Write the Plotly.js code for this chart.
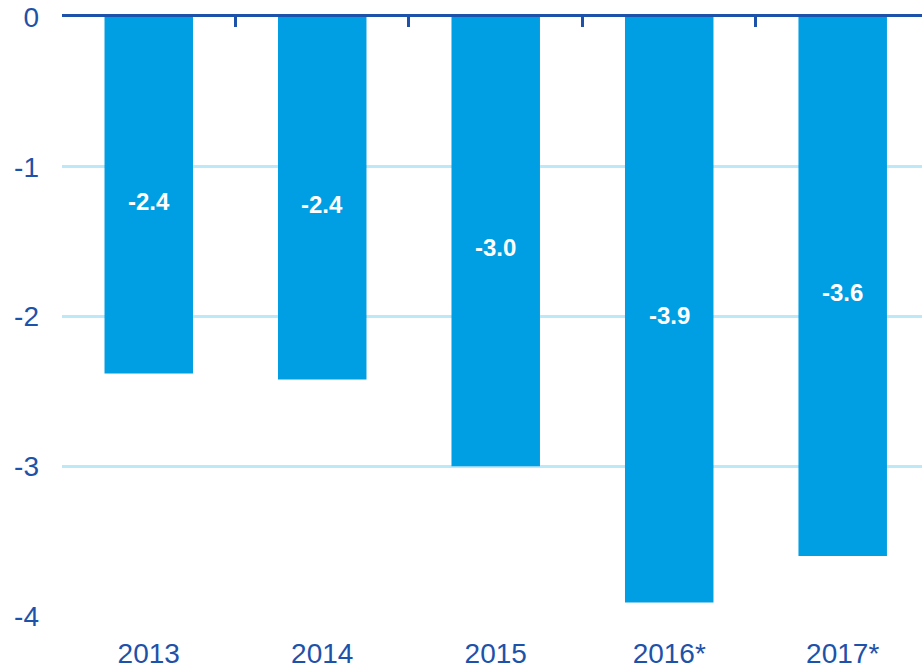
<!DOCTYPE html>
<html>
<head>
<meta charset="utf-8">
<script src="https://cdn.plot.ly/plotly-3.0.1.min.js"></script>
<style>html,body{margin:0;padding:0;background:#fff;}#chart{width:922px;height:668px;}</style>
</head>
<body>
<div id="chart"></div>
<script>
const years = ["2013", "2014", "2015", "2016*", "2017*"];
const values = [-2.38, -2.42, -3.0, -3.91, -3.6];
const barLabels = ["-2.4", "-2.4", "-3.0", "-3.9", "-3.6"];
const yTickVals = [0, -1, -2, -3, -4];
const yTickText = ["0", "-1", "-2", "-3", "-4"];

const axisBlue = "#1d52aa";
const barBlue = "#009ee2";
const font = "Liberation Sans, Arial, sans-serif";

const traces = [
  {
    type: "bar",
    x: years,
    y: values,
    width: 0.51,
    marker: {color: barBlue},
    hoverinfo: "skip"
  },
  {
    type: "scatter",
    x: years,
    y: values,
    xaxis: "x2",
    mode: "none",
    showlegend: false,
    hoverinfo: "skip"
  }
];

// category positions by index so "2013" is not read as a number
const annotations = years.map((yr, i) => ({
  x: i,
  y: values[i] / 2,
  xref: "x",
  yref: "y",
  text: barLabels[i],
  showarrow: false,
  yshift: -6,
  font: {family: font, size: 24, color: "#ffffff", weight: "bold"}
}));

const layout = {
  width: 922,
  height: 668,
  margin: {l: 62, r: 0, t: 17, b: 52},
  paper_bgcolor: "#ffffff",
  plot_bgcolor: "#ffffff",
  showlegend: false,
  font: {family: font, color: axisBlue},
  annotations: annotations,
  xaxis: {
    type: "category",
    categoryorder: "array",
    categoryarray: years,
    range: [-0.5, 4.457],
    showline: false,
    showgrid: false,
    zeroline: false,
    ticks: "",
    ticklabelstandoff: 18,
    tickfont: {family: font, size: 28, color: axisBlue},
    fixedrange: true
  },
  xaxis2: {
    type: "category",
    categoryorder: "array",
    categoryarray: years,
    overlaying: "x",
    side: "top",
    anchor: "y",
    range: [-0.5, 4.457],
    showline: true,
    linecolor: axisBlue,
    linewidth: 3,
    showgrid: false,
    zeroline: false,
    ticks: "inside",
    tickson: "boundaries",
    ticklen: 10,
    tickwidth: 3,
    tickcolor: axisBlue,
    showticklabels: false
  },
  yaxis: {
    range: [-4, 0],
    tickvals: yTickVals,
    ticktext: yTickText,
    showline: false,
    zeroline: false,
    showgrid: true,
    gridcolor: "#bce8f8",
    gridwidth: 3,
    ticks: "",
    ticklabelstandoff: 22,
    tickfont: {family: font, size: 28, color: axisBlue},
    fixedrange: true
  },
  bargap: 0.49
};

Plotly.newPlot("chart", traces, layout, {displayModeBar: false, staticPlot: true});
</script>
</body>
</html>
